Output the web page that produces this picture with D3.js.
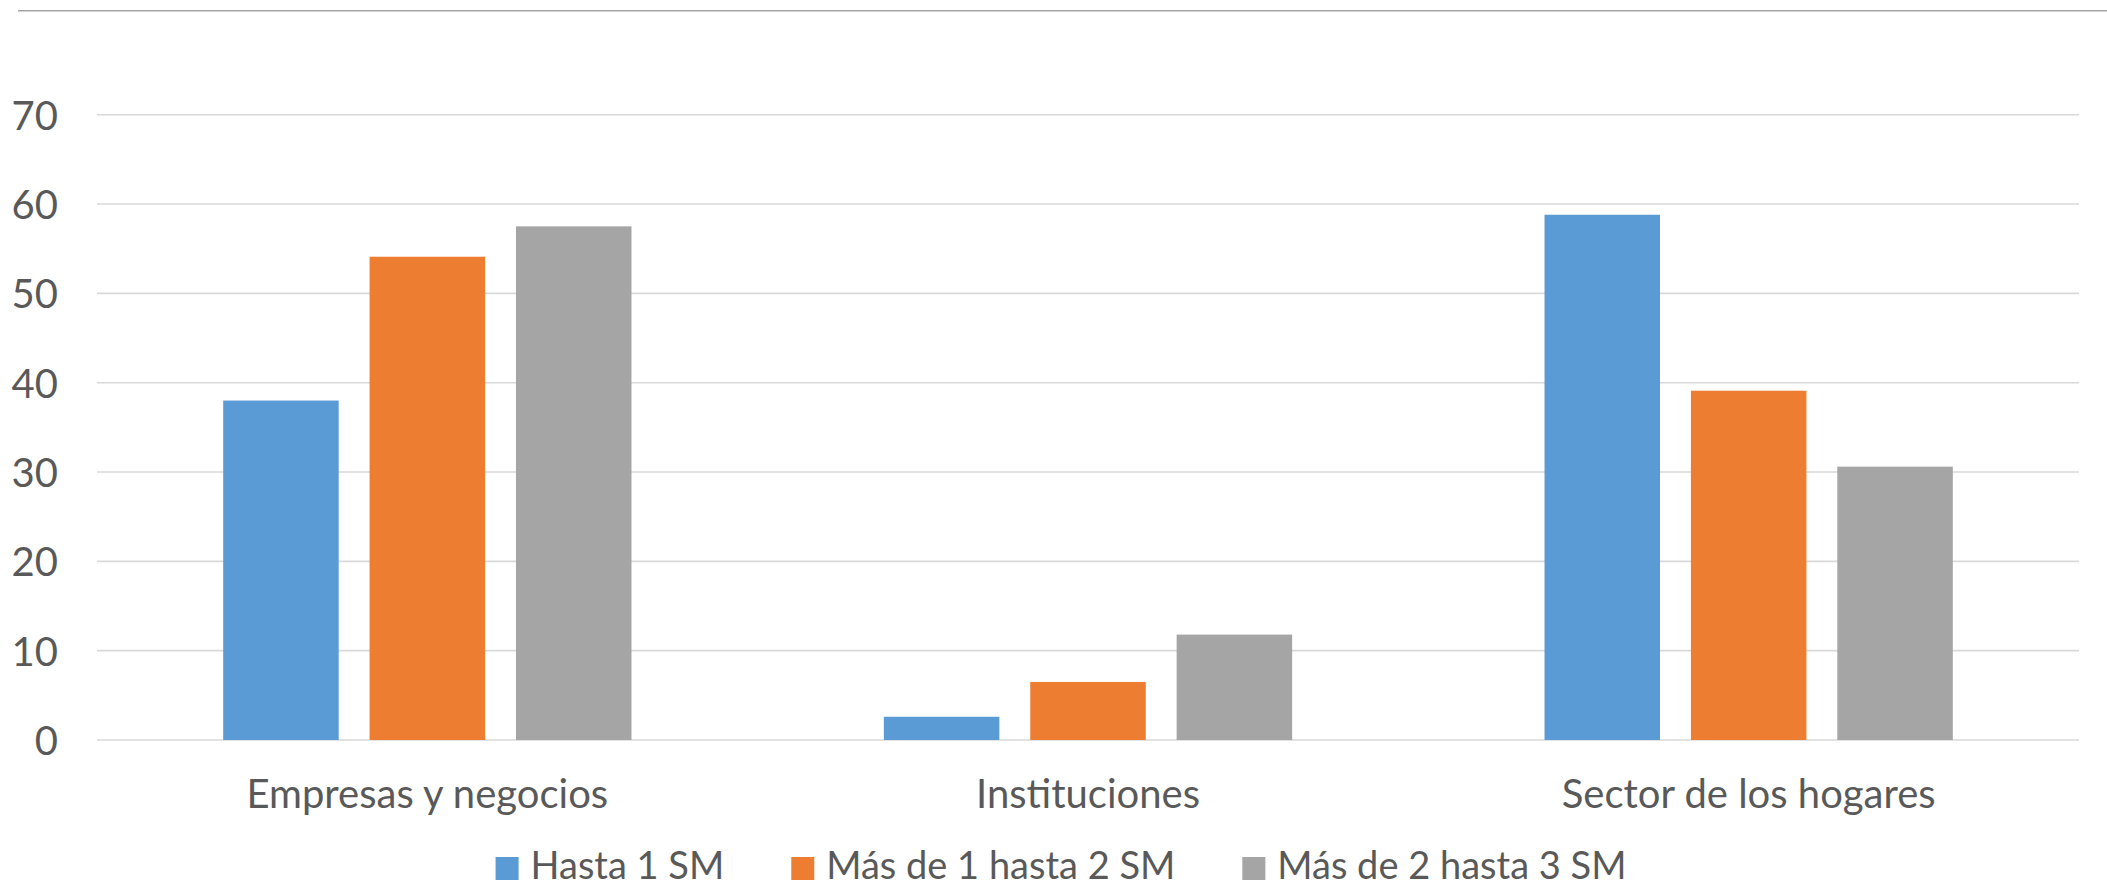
<!DOCTYPE html>
<html>
<head>
<meta charset="utf-8">
<script src="https://cdn.jsdelivr.net/npm/d3@7"></script>
<style>
  body { margin: 0; background: #fff; }
  svg text { font-family: Lato, "Open Sans", sans-serif; fill: #595959; }
</style>
</head>
<body>
<div id="viz"></div>
<script>
const categories = ["Empresas y negocios", "Instituciones", "Sector de los hogares"];
const seriesNames = ["Hasta 1 SM", "Más de 1 hasta 2 SM", "Más de 2 hasta 3 SM"];
const hasta1 = [38.0, 2.6, 58.8];
const de1a2 = [54.1, 6.5, 39.1];
const de2a3 = [57.5, 11.8, 30.6];
const yTicks = [0, 10, 20, 30, 40, 50, 60, 70];
const colors = ["#5b9bd5", "#ed7d31", "#a5a5a5"];

const width = 2107,
  height = 889;
const plotLeft = 97,
  plotRight = 2079,
  plotTop = 114.7,
  plotBottom = 740;

const svg = d3
  .select("#viz")
  .append("svg")
  .attr("width", width)
  .attr("height", height);

// separator line at the very top
svg
  .append("line")
  .attr("x1", 18)
  .attr("x2", width)
  .attr("y1", 10.7)
  .attr("y2", 10.7)
  .attr("stroke", "#a3a3a3")
  .attr("stroke-width", 1.6);

const yScale = d3.scaleLinear().domain([0, 70]).range([plotBottom, plotTop]);

const x0 = d3
  .scaleBand()
  .domain(categories)
  .range([plotLeft, plotRight])
  .paddingInner(0.382)
  .paddingOuter(0.191);

const x1 = d3
  .scaleBand()
  .domain(seriesNames)
  .range([0, x0.bandwidth()])
  .paddingInner(0.211);

// gridlines
svg
  .append("g")
  .selectAll("line")
  .data(yTicks)
  .enter()
  .append("line")
  .attr("x1", plotLeft)
  .attr("x2", plotRight)
  .attr("y1", d => yScale(d))
  .attr("y2", d => yScale(d))
  .attr("stroke", "#d9d9d9")
  .attr("stroke-width", 1.6);

// y tick labels
const yAxis = d3.axisLeft(yScale).tickValues(yTicks).tickSize(0).tickPadding(0);
const axisLeftG = svg
  .append("g")
  .attr("transform", "translate(58,0)")
  .call(yAxis);
axisLeftG.select(".domain").remove();
axisLeftG
  .selectAll("text")
  .attr("font-size", 40)
  .attr("font-family", null)
  .attr("fill", "#595959")
  .attr("dy", "0.36em");

// bars
const rows = categories.map((c, i) => ({
  cat: c,
  values: [hasta1[i], de1a2[i], de2a3[i]]
}));

const groups = svg
  .append("g")
  .selectAll("g")
  .data(rows)
  .enter()
  .append("g")
  .attr("transform", d => `translate(${x0(d.cat)},0)`);

groups
  .selectAll("rect")
  .data(d => d.values.map((v, j) => ({ name: seriesNames[j], value: v, j })))
  .enter()
  .append("rect")
  .attr("x", d => x1(d.name))
  .attr("y", d => yScale(d.value))
  .attr("width", x1.bandwidth())
  .attr("height", d => plotBottom - yScale(d.value))
  .attr("fill", d => colors[d.j]);

// category labels
const xAxis = d3.axisBottom(x0).tickSize(0).tickPadding(0);
const axisBottomG = svg
  .append("g")
  .attr("transform", `translate(0,${plotBottom})`)
  .call(xAxis);
axisBottomG.select(".domain").remove();
axisBottomG
  .selectAll("text")
  .attr("font-size", 40)
  .attr("font-family", null)
  .attr("fill", "#595959")
  .attr("dy", null)
  .attr("y", 68);

// legend
const legend = svg.append("g");
const items = legend
  .selectAll("g")
  .data(seriesNames)
  .enter()
  .append("g");
items
  .append("rect")
  .attr("width", 23)
  .attr("height", 23)
  .attr("y", 857)
  .attr("fill", (d, i) => colors[i]);
items
  .append("text")
  .attr("x", 35)
  .attr("y", 879)
  .attr("font-size", 38)
  .text(d => d);

let xPos = 0;
const positions = [];
items.each(function () {
  const w = d3.select(this).select("text").node().getComputedTextLength();
  positions.push(xPos);
  xPos += 35 + w + 67;
});
const total = xPos - 67;
const startX = 1061 - total / 2;
items.attr("transform", (d, i) => `translate(${startX + positions[i]},0)`);
</script>
</body>
</html>
